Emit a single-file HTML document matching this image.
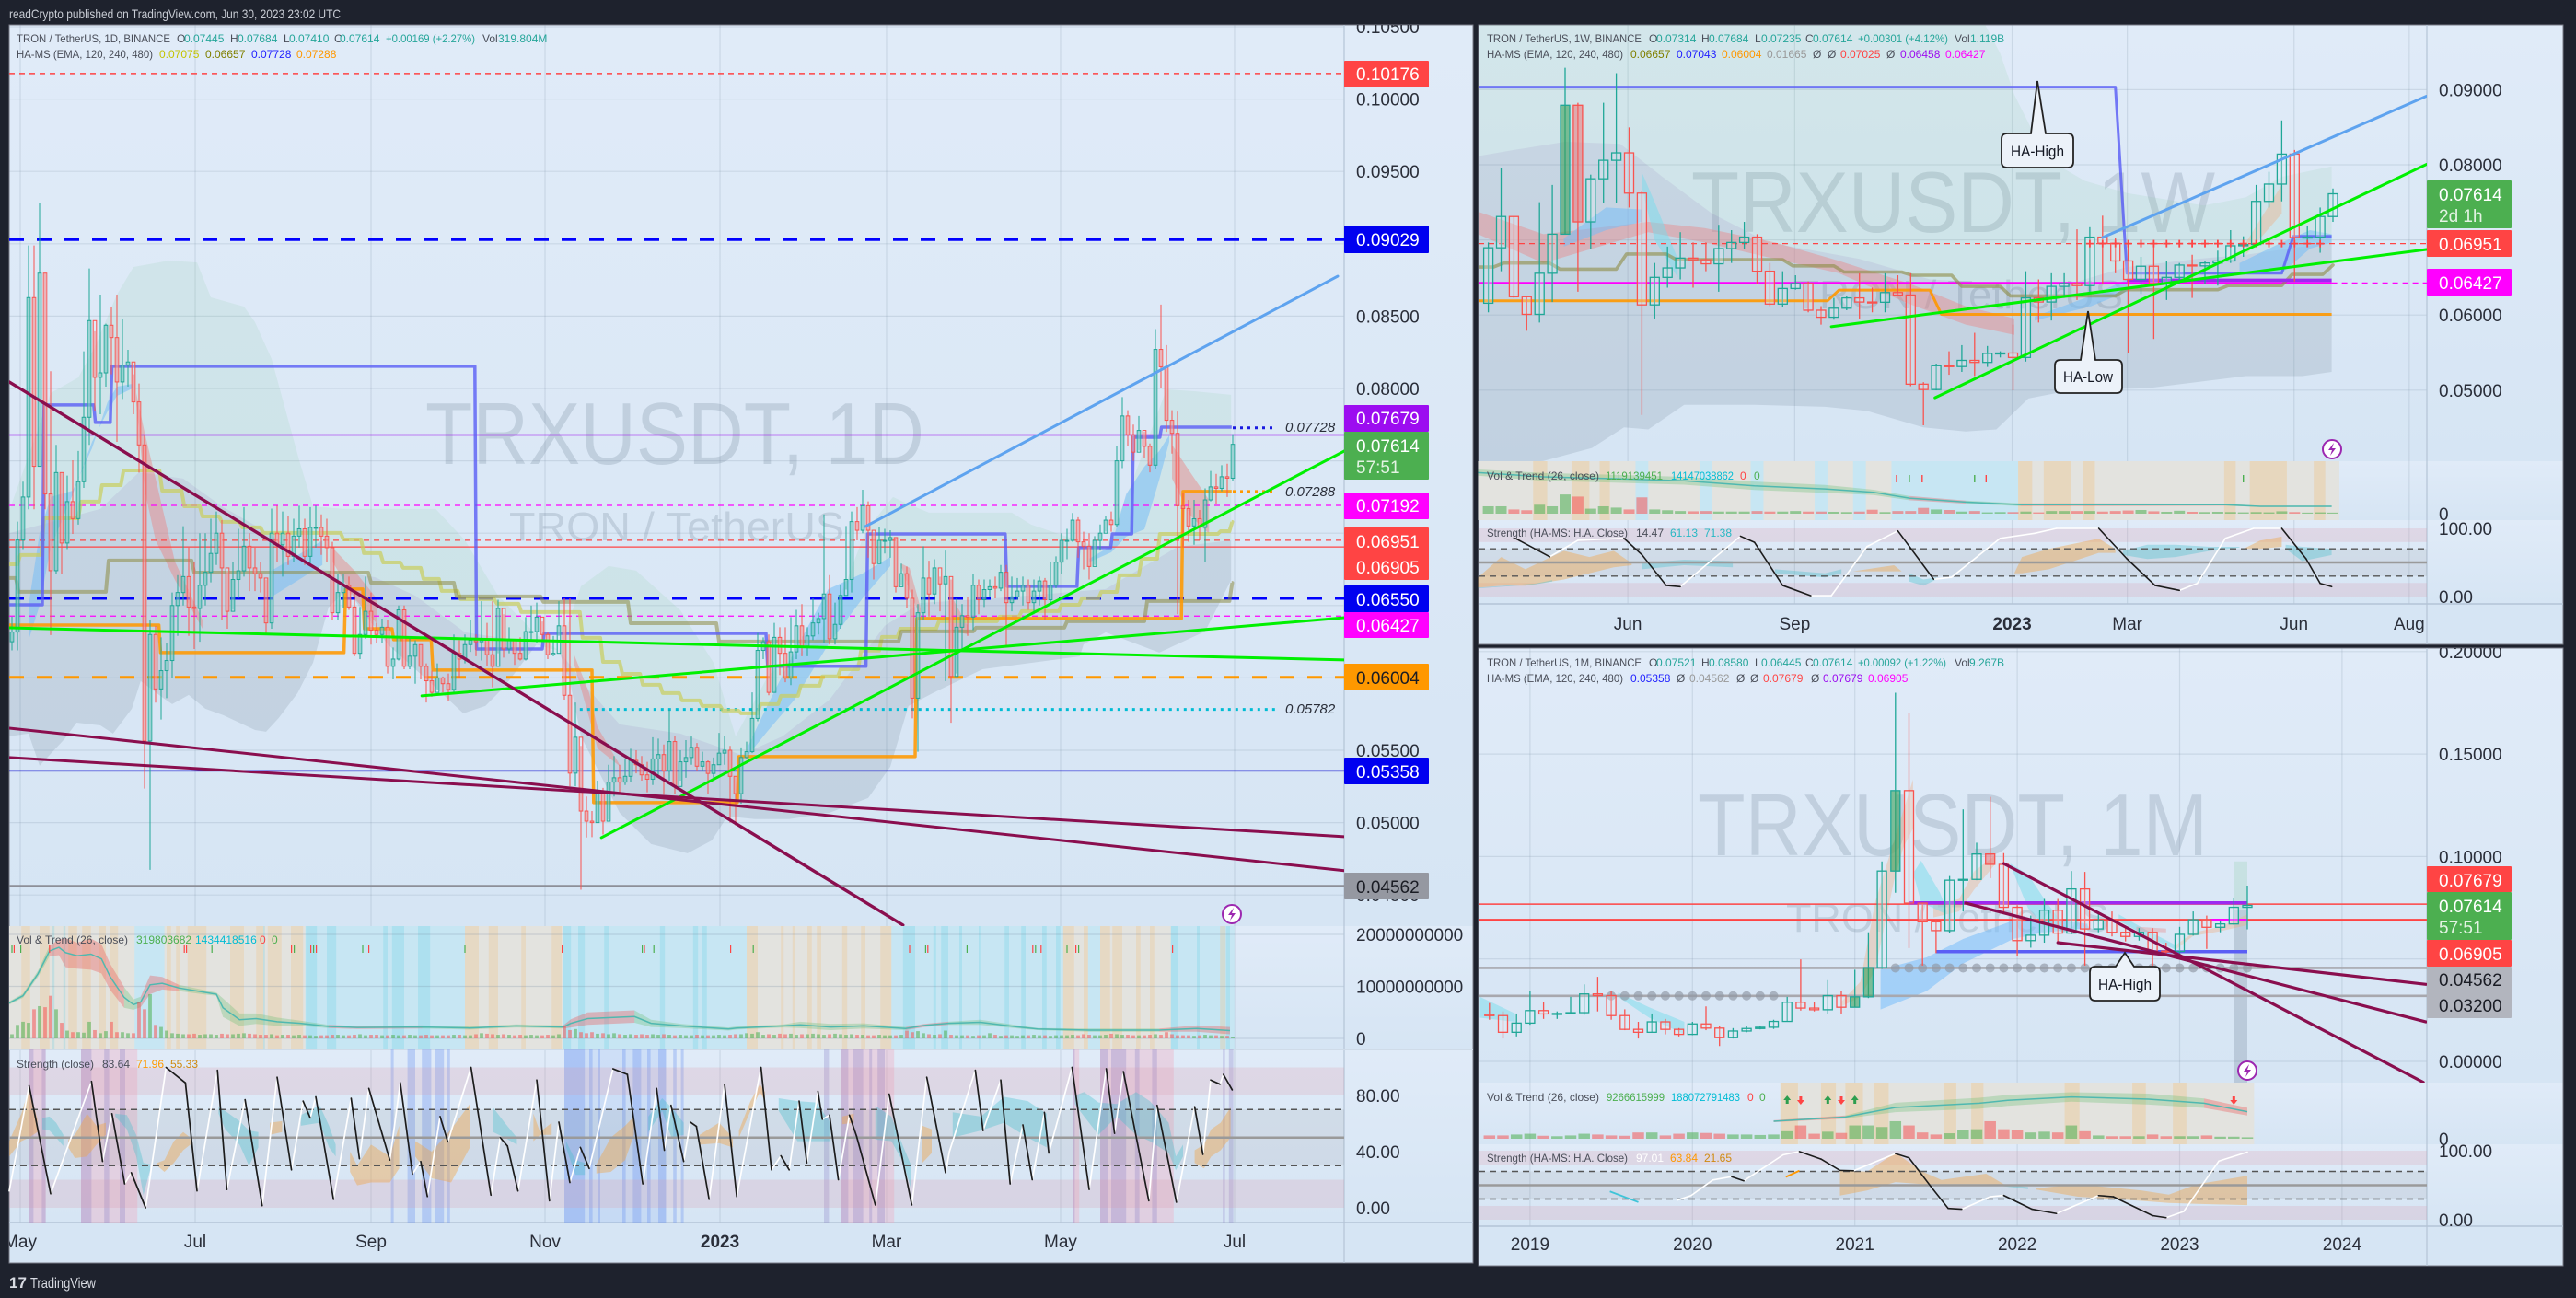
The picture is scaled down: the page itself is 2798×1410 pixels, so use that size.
<!DOCTYPE html>
<html lang="en">
<head>
<meta charset="utf-8">
<title>TRXUSDT multi-timeframe chart</title>
<style>
html,body{margin:0;padding:0;background:#1e222d;width:2798px;height:1410px;overflow:hidden}
svg{display:block}
text{font-family:"Liberation Sans",sans-serif}
.lg{font-size:12px;fill:#4a4e59}
.ax{font-size:19px;fill:#2a2e39}
.bx{font-size:19px;fill:#fff}
.bd{font-size:19px;fill:#1a1c24}
.it{font-size:15px;font-style:italic;fill:#2a2e39}
.te{fill:#26a69a}
</style>
</head>
<body>
<svg id="stage" width="2798" height="1410" viewBox="0 0 2798 1410" xmlns="http://www.w3.org/2000/svg">
<defs>
<linearGradient id="paneGrad" x1="0" y1="0" x2="0" y2="1"><stop offset="0" stop-color="#e0ebf8"/><stop offset="1" stop-color="#d6e5f4"/></linearGradient>
<clipPath id="clipDayMain"><rect x="10" y="27" width="1450" height="979"/></clipPath>
<clipPath id="clipWeekMain"><rect x="1606" y="27" width="1030" height="474"/></clipPath>
<clipPath id="clipMonthMain"><rect x="1606" y="704" width="1030" height="472"/></clipPath>
<clipPath id="clipDayAll"><rect x="10" y="27" width="1590" height="1345"/></clipPath>
<clipPath id="clipWeekAll"><rect x="1606" y="27" width="1178" height="673"/></clipPath>
<clipPath id="clipMonthAll"><rect x="1606" y="704" width="1178" height="671"/></clipPath>
</defs>
<rect x="0" y="0" width="2798" height="1410" fill="#1e222d"/>
<g id="layerBg"></g>
<g id="watermarks" fill="#6e8296" fill-opacity="0.25">
<text x="462" y="504" font-size="96" textLength="542" lengthAdjust="spacingAndGlyphs">TRXUSDT, 1D</text>
<text x="553" y="587" font-size="44" textLength="364" lengthAdjust="spacingAndGlyphs">TRON / TetherUS</text>
<text x="1837" y="252" font-size="94" textLength="569" lengthAdjust="spacingAndGlyphs">TRXUSDT, 1W</text>
<text x="1948" y="335" font-size="44" textLength="358" lengthAdjust="spacingAndGlyphs">TRON / TetherUS</text>
<text x="1844" y="929" font-size="96" textLength="554" lengthAdjust="spacingAndGlyphs">TRXUSDT, 1M</text>
<text x="1940" y="1012" font-size="44" textLength="351" lengthAdjust="spacingAndGlyphs">TRON / TetherUS</text>
</g>
<g id="layerMarks"></g>

<g>
<text x="10" y="20" font-size="14" fill="#c8ccd4" textLength="360" lengthAdjust="spacingAndGlyphs">readCrypto published on TradingView.com, Jun 30, 2023 23:02 UTC</text>
<text x="10" y="1399" font-size="17" font-weight="bold" fill="#d8dbe2">17</text>
<text x="33" y="1399" font-size="16" fill="#d8dbe2" textLength="71" lengthAdjust="spacingAndGlyphs">TradingView</text>
</g>

<g>
<text class="lg" x="18" y="46" textLength="167" lengthAdjust="spacingAndGlyphs">TRON / TetherUS, 1D, BINANCE</text>
<text class="lg" x="192" y="46">O</text><text class="lg te" x="200" y="46">0.07445</text>
<text class="lg" x="250" y="46">H</text><text class="lg te" x="258" y="46">0.07684</text>
<text class="lg" x="308" y="46">L</text><text class="lg te" x="314" y="46">0.07410</text>
<text class="lg" x="363" y="46">C</text><text class="lg te" x="369" y="46">0.07614</text>
<text class="lg te" x="419" y="46" textLength="97" lengthAdjust="spacingAndGlyphs">+0.00169 (+2.27%)</text>
<text class="lg" x="524" y="46">Vol</text><text class="lg te" x="541" y="46">319.804M</text>
<text class="lg" x="18" y="63" textLength="148" lengthAdjust="spacingAndGlyphs">HA-MS (EMA, 120, 240, 480)</text>
<text class="lg" x="173" y="63" style="fill:#c4c400">0.07075</text>
<text class="lg" x="223" y="63" style="fill:#808000">0.06657</text>
<text class="lg" x="273" y="63" style="fill:#2222ff">0.07728</text>
<text class="lg" x="322" y="63" style="fill:#ff9800">0.07288</text>
<text class="lg" x="18" y="1025" textLength="121" lengthAdjust="spacingAndGlyphs">Vol &amp; Trend (26, close)</text>
<text class="lg" x="148" y="1025" style="fill:#4caf50">319803682</text>
<text class="lg" x="212" y="1025" style="fill:#00bcd4">1434418516</text>
<text class="lg" x="282" y="1025" style="fill:#f44">0</text>
<text class="lg" x="295" y="1025" style="fill:#4caf50">0</text>
<text class="lg" x="18" y="1160" textLength="84" lengthAdjust="spacingAndGlyphs">Strength (close)</text>
<text class="lg" x="111" y="1160">83.64</text>
<text class="lg" x="148" y="1160" style="fill:#ff9800">71.96</text>
<text class="lg" x="185" y="1160" style="fill:#d08a10">55.33</text>
</g>

<g>
<text class="lg" x="1615" y="46" textLength="168" lengthAdjust="spacingAndGlyphs">TRON / TetherUS, 1W, BINANCE</text>
<text class="lg" x="1791" y="46">O</text><text class="lg te" x="1799" y="46">0.07314</text>
<text class="lg" x="1848" y="46">H</text><text class="lg te" x="1856" y="46">0.07684</text>
<text class="lg" x="1906" y="46">L</text><text class="lg te" x="1913" y="46">0.07235</text>
<text class="lg" x="1961" y="46">C</text><text class="lg te" x="1969" y="46">0.07614</text>
<text class="lg te" x="2018" y="46" textLength="98" lengthAdjust="spacingAndGlyphs">+0.00301 (+4.12%)</text>
<text class="lg" x="2123" y="46">Vol</text><text class="lg te" x="2140" y="46">1.119B</text>
<text class="lg" x="1615" y="63" textLength="148" lengthAdjust="spacingAndGlyphs">HA-MS (EMA, 120, 240, 480)</text>
<text class="lg" x="1771" y="63" style="fill:#808000">0.06657</text>
<text class="lg" x="1821" y="63" style="fill:#2222ff">0.07043</text>
<text class="lg" x="1870" y="63" style="fill:#ff9800">0.06004</text>
<text class="lg" x="1919" y="63" style="fill:#999">0.01665</text>
<text class="lg" x="1969" y="63">Ø</text>
<text class="lg" x="1985" y="63">Ø</text>
<text class="lg" x="1999" y="63" style="fill:#f44">0.07025</text>
<text class="lg" x="2049" y="63">Ø</text>
<text class="lg" x="2064" y="63" style="fill:#9c0df0">0.06458</text>
<text class="lg" x="2113" y="63" style="fill:#f0f">0.06427</text>
<text class="lg" x="1615" y="521" textLength="122" lengthAdjust="spacingAndGlyphs">Vol &amp; Trend (26, close)</text>
<text class="lg" x="1744" y="521" style="fill:#4caf50" textLength="62" lengthAdjust="spacingAndGlyphs">1119139451</text>
<text class="lg" x="1815" y="521" style="fill:#00bcd4" textLength="68" lengthAdjust="spacingAndGlyphs">14147038862</text>
<text class="lg" x="1890" y="521" style="fill:#f44">0</text>
<text class="lg" x="1905" y="521" style="fill:#4caf50">0</text>
<text class="lg" x="1615" y="583" textLength="153" lengthAdjust="spacingAndGlyphs">Strength (HA-MS: H.A. Close)</text>
<text class="lg" x="1777" y="583">14.47</text>
<text class="lg" x="1814" y="583" style="fill:#26b8c4">61.13</text>
<text class="lg" x="1851" y="583" style="fill:#26b8c4">71.38</text>
</g>

<g>
<text class="lg" x="1615" y="724" textLength="168" lengthAdjust="spacingAndGlyphs">TRON / TetherUS, 1M, BINANCE</text>
<text class="lg" x="1791" y="724">O</text><text class="lg te" x="1799" y="724">0.07521</text>
<text class="lg" x="1848" y="724">H</text><text class="lg te" x="1856" y="724">0.08580</text>
<text class="lg" x="1906" y="724">L</text><text class="lg te" x="1913" y="724">0.06445</text>
<text class="lg" x="1961" y="724">C</text><text class="lg te" x="1969" y="724">0.07614</text>
<text class="lg te" x="2018" y="724" textLength="96" lengthAdjust="spacingAndGlyphs">+0.00092 (+1.22%)</text>
<text class="lg" x="2123" y="724">Vol</text><text class="lg te" x="2139" y="724">9.267B</text>
<text class="lg" x="1615" y="741" textLength="148" lengthAdjust="spacingAndGlyphs">HA-MS (EMA, 120, 240, 480)</text>
<text class="lg" x="1771" y="741" style="fill:#2222ff">0.05358</text>
<text class="lg" x="1821" y="741">Ø</text>
<text class="lg" x="1835" y="741" style="fill:#999">0.04562</text>
<text class="lg" x="1886" y="741">Ø</text>
<text class="lg" x="1901" y="741">Ø</text>
<text class="lg" x="1915" y="741" style="fill:#f44">0.07679</text>
<text class="lg" x="1967" y="741">Ø</text>
<text class="lg" x="1980" y="741" style="fill:#9c0df0">0.07679</text>
<text class="lg" x="2029" y="741" style="fill:#f0f">0.06905</text>
<text class="lg" x="1615" y="1196" textLength="122" lengthAdjust="spacingAndGlyphs">Vol &amp; Trend (26, close)</text>
<text class="lg" x="1745" y="1196" style="fill:#4caf50" textLength="63" lengthAdjust="spacingAndGlyphs">9266615999</text>
<text class="lg" x="1815" y="1196" style="fill:#00bcd4" textLength="75" lengthAdjust="spacingAndGlyphs">188072791483</text>
<text class="lg" x="1898" y="1196" style="fill:#f44">0</text>
<text class="lg" x="1911" y="1196" style="fill:#4caf50">0</text>
<text class="lg" x="1615" y="1262" textLength="153" lengthAdjust="spacingAndGlyphs">Strength (HA-MS: H.A. Close)</text>
<text class="lg" x="1777" y="1262" style="fill:#fff">97.01</text>
<text class="lg" x="1814" y="1262" style="fill:#ff9800">63.84</text>
<text class="lg" x="1851" y="1262" style="fill:#d08a10">21.65</text>
</g>

<g>
<rect x="1460" y="66" width="92" height="29" rx="1" fill="#f44"/><text class="bx" x="1473" y="87">0.10176</text>
<rect x="1460" y="245" width="92" height="30" rx="1" fill="#0000f0"/><text class="bx" x="1473" y="267">0.09029</text>
<rect x="1460" y="440" width="92" height="29" rx="1" fill="#9c0df0"/><text class="bx" x="1473" y="461">0.07679</text>
<rect x="1460" y="469" width="92" height="52" rx="1" fill="#4caf50"/><text class="bx" x="1473" y="491">0.07614</text><text class="bx" x="1473" y="514" style="fill:#e3f3e3">57:51</text>
<rect x="1460" y="535" width="92" height="29" rx="1" fill="#f0f"/><text class="bx" x="1473" y="556">0.07192</text>
<rect x="1460" y="573" width="92" height="57" rx="1" fill="#f44"/><text class="bx" x="1473" y="595">0.06951</text><text class="bx" x="1473" y="623">0.06905</text>
<rect x="1460" y="636" width="92" height="29" rx="1" fill="#0000f0"/><text class="bx" x="1473" y="658">0.06550</text>
<rect x="1460" y="665" width="92" height="28" rx="1" fill="#f0f"/><text class="bx" x="1473" y="686">0.06427</text>
<rect x="1460" y="721" width="92" height="29" rx="1" fill="#ff9800"/><text class="bd" x="1473" y="743">0.06004</text>
<rect x="1460" y="823" width="92" height="29" rx="1" fill="#0000f0"/><text class="bx" x="1473" y="845">0.05358</text>
<rect x="1460" y="948" width="92" height="29" rx="1" fill="#9598a1"/><text class="bd" x="1473" y="970">0.04562</text>
<text class="it" x="1396" y="469">0.07728</text>
<text class="it" x="1396" y="539">0.07288</text>
<text class="it" x="1396" y="775">0.05782</text>
</g>

<g>
<rect x="2636" y="196" width="92" height="52" rx="1" fill="#4caf50"/><text class="bx" x="2649" y="218">0.07614</text><text class="bx" x="2649" y="241" style="fill:#e3f3e3">2d 1h</text>
<rect x="2636" y="250" width="92" height="29" rx="1" fill="#f44"/><text class="bx" x="2649" y="272">0.06951</text>
<rect x="2636" y="292" width="92" height="29" rx="1" fill="#f0f"/><text class="bx" x="2649" y="314">0.06427</text>
</g>

<g>
<rect x="2636" y="941" width="92" height="28" rx="1" fill="#f44"/><text class="bx" x="2649" y="963">0.07679</text>
<rect x="2636" y="969" width="92" height="52" rx="1" fill="#4caf50"/><text class="bx" x="2649" y="991">0.07614</text><text class="bx" x="2649" y="1014" style="fill:#e3f3e3">57:51</text>
<rect x="2636" y="1021" width="92" height="29" rx="1" fill="#f44"/><text class="bx" x="2649" y="1043">0.06905</text>
<rect x="2636" y="1050" width="92" height="56" rx="1" fill="#b2b5be"/><text class="bd" x="2649" y="1071">0.04562</text><text class="bd" x="2649" y="1099">0.03200</text>
</g>

<g>
<path d="M2180,145H2206L2213,88L2222,145H2246Q2252,145 2252,151V176Q2252,182 2246,182H2180Q2174,182 2174,176V151Q2174,145 2180,145Z" fill="#ecf2f9" stroke="#222" stroke-width="1.8"/>
<text x="2213" y="170" text-anchor="middle" font-size="17" fill="#131722" textLength="58" lengthAdjust="spacingAndGlyphs">HA-High</text>
<path d="M2238,391H2260L2268,338L2276,391H2299Q2305,391 2305,397V421Q2305,427 2299,427H2238Q2232,427 2232,421V397Q2232,391 2238,391Z" fill="#ecf2f9" stroke="#222" stroke-width="1.8"/>
<text x="2268" y="415" text-anchor="middle" font-size="17" fill="#131722" textLength="54" lengthAdjust="spacingAndGlyphs">HA-Low</text>
<path d="M2276,1050H2298L2308,1035L2318,1050H2340Q2346,1050 2346,1056V1081Q2346,1087 2340,1087H2276Q2270,1087 2270,1081V1056Q2270,1050 2276,1050Z" fill="#ecf2f9" stroke="#222" stroke-width="1.8"/>
<text x="2308" y="1075" text-anchor="middle" font-size="17" fill="#131722" textLength="58" lengthAdjust="spacingAndGlyphs">HA-High</text>
</g>

<g transform="translate(1338,993)"><circle r="10" fill="#fff" stroke="#9c27b0" stroke-width="2"/><polygon points="2,-7 -4,1 0,1 -2,7 4,-1 0,-1" fill="#9c27b0"/></g>
<g transform="translate(2533,488)"><circle r="10" fill="#fff" stroke="#9c27b0" stroke-width="2"/><polygon points="2,-7 -4,1 0,1 -2,7 4,-1 0,-1" fill="#9c27b0"/></g>
<g transform="translate(2441,1163)"><circle r="10" fill="#fff" stroke="#9c27b0" stroke-width="2"/><polygon points="2,-7 -4,1 0,1 -2,7 4,-1 0,-1" fill="#9c27b0"/></g>
</svg>

<script>
/* ===== DAILY DATA (prices in 1e-5 USDT, one bar per two sessions) ===== */
const dayClose=[6317,6953,7250,8628,7462,8797,7271,6741,7419,6932,
7218,7101,7356,7801,8469,8077,8108,8437,8352,8045,
8161,8183,7907,7610,5564,6300,5924,6050,6120,6500,
6590,6700,6490,6480,6640,6730,6860,7000,6760,6460,
6680,6740,6910,6760,6720,6690,6380,7000,6920,7000,
6840,6980,7030,6840,7040,7040,6980,6900,6450,6590,
6640,6490,6170,6300,6460,6330,6300,6350,6080,6130,
6470,6080,6150,6230,6080,5980,5900,6000,5960,5920,
6170,6130,6230,6260,6250,6260,6160,6080,6480,6200,
6260,6170,6130,6320,6320,6420,6300,6160,6170,6360,
5880,5342,5590,5080,5010,5000,5210,5010,5280,5310,
5280,5320,5430,5400,5330,5300,5440,5470,5360,5560,
5250,5420,5450,5520,5390,5420,5340,5400,5480,5500,
5320,5200,5450,5490,5720,6190,6250,5900,6280,6170,
6000,6180,6360,6220,6290,6380,6410,6580,6270,6370,
6570,6680,7080,7020,7190,7020,6790,6950,6950,6970,
6630,6720,6550,5860,6450,6690,6580,6760,6650,6700,
6010,6350,6430,6420,6640,6540,6610,6630,6620,6730,
6520,6560,6600,6640,6520,6600,6670,6540,6640,6800,
6950,6950,7090,6940,6910,6770,6950,7000,7090,7060,
7500,7810,7680,7560,7710,7600,7470,8270,8150,7780,
7690,7190,7170,7050,7100,7040,7230,7320,7310,7390,
7380,7614];
const dayHigh=[6423,7080,7356,8988,8988,9285,8797,8119,7610,7419,
7398,7504,7568,8257,8829,8395,8649,8448,8564,8649,
8479,8267,8098,8034,7674,6400,6359,6280,6240,6590,
6710,7048,6900,6800,7000,7000,7100,7150,7090,6730,
6800,7030,7180,7000,6900,6800,6680,7170,7190,7150,
7120,7100,7190,7100,7180,7190,7130,7100,6940,6720,
6720,6700,6600,6490,6700,6590,6380,6410,6400,6210,
6500,6500,6280,6260,6230,6100,6050,6100,6010,6030,
6300,6260,6300,6400,6300,6530,6380,6530,6540,6440,
6350,6260,6280,6420,6500,6520,6390,6320,6290,6530,
6550,6550,5830,5530,5180,5080,5290,5240,5400,5460,
5400,5440,5510,5500,5460,5420,5590,5580,5540,5780,
5600,5500,5570,5600,5550,5490,5430,5450,5620,5600,
5530,5320,5520,5560,5900,6310,6280,6300,6380,6350,
6350,6420,6470,6510,6350,6550,6450,7130,6710,6520,
6640,7050,7150,7180,7300,7220,7000,7040,7030,7020,
6970,6790,6770,6610,6510,6910,6810,6820,6700,6880,
6680,6550,6510,6560,6720,6680,6680,6680,6700,6780,
6780,6700,6690,6700,6680,6680,6700,6690,6800,6840,
7000,7030,7140,7110,7010,7000,6980,7060,7120,7150,
7600,7940,7850,7750,7810,7700,7620,8410,8580,8300,
7850,7840,7280,7230,7230,7160,7310,7430,7410,7470,
7480,7684];
const dayLow=[6190,6190,6890,7165,7165,7462,7165,6296,6720,6720,
6890,6995,7059,7313,7610,7843,7822,8013,8098,7631,
7928,8013,7822,7419,5235,4674,5829,5712,5860,6000,
6290,6500,6290,6200,6250,6500,6660,6780,6400,6340,
6470,6550,6700,6600,6600,6590,6300,6340,6800,6700,
6780,6800,6900,6780,6780,6900,6850,6800,6400,6400,
6480,6470,6150,6130,6270,6230,6240,6240,6030,5990,
6120,6060,6060,5960,5990,5830,5870,5920,5900,5840,
5900,6000,6100,6180,6150,6120,6080,5935,6170,6140,
6170,6090,6120,6120,6260,6240,6250,6130,6150,6290,
5850,5250,5250,4536,4897,4900,5000,4918,5020,5180,
5200,5260,5280,5340,5290,5210,5260,5330,5193,5290,
5200,5290,5310,5400,5360,5360,5200,5310,5400,5400,
5000,4980,5130,5440,5480,5700,6130,5880,5900,6020,
5970,5950,6130,6150,6150,6260,6300,6240,6230,6230,
6340,6610,6590,6950,7000,6830,6680,6800,6860,6830,
6590,6640,6480,5720,5490,6400,6423,6510,6460,5978,
5690,6030,6190,6290,6330,6440,6490,6560,6550,6600,
6210,6460,6540,6500,6470,6440,6500,6400,6500,6620,
6720,6820,6940,6830,6750,6680,6780,6880,7010,7010,
7040,7450,7600,7500,7570,7520,7420,7440,8000,7700,
7550,6440,6900,6940,6920,6950,6800,7220,7200,7290,
7250,7360];
const dayVolume=[.8,2.6,3.2,3,5.6,6.2,6,8.2,5.6,3,
1.5,1.2,1.2,1.1,3.2,1.6,1,1.4,3.2,1.2,
1.2,1,1,7,5.6,8.5,2.6,2.2,1.5,1,
.9,.8,.8,.9,.7,.8,.8,.7,.9,.8,
.8,.9,1,.9,.8,.7,.7,.8,.6,.7,
.7,.6,.7,.6,.6,.5,.6,.6,.7,.7,
.6,.6,.7,.8,.6,.7,.7,.6,.6,.7,
.6,.6,.7,.6,.6,.7,.6,.6,.6,.6,
.7,.7,.6,.6,.8,1,.9,.8,.7,.8,
.7,.6,.7,.6,.7,.6,.6,.7,.6,.8,
2.3,1.6,1.8,1.2,1,1.2,.9,1,.8,1,
.8,.7,.8,.7,.8,.7,.8,.7,.8,.7,
.6,.7,.6,.6,.7,.6,.6,.6,.7,.6,
.7,.8,.8,1,.9,1.2,.7,.8,.7,.9,
.8,.9,.7,.8,.8,.9,.8,.7,.8,.9,
.8,.7,.8,.7,.7,.6,.6,.7,.6,.6,
.6,.7,1.5,1.2,1.4,1,.8,.7,.8,1.5,
.7,.6,.6,.6,.5,.6,.6,1,.7,.5,
.6,.6,.5,.6,.6,.7,.6,.6,.5,.6,
.6,.6,.7,.6,.8,.7,.6,.6,.7,.9,
.8,.7,.7,.6,.6,.6,.7,.8,.7,1.2,
.8,.6,.6,.6,.5,.6,.7,.6,.6,.5,
.5,.32];
const dayPriceTickLabels=['0.10500','0.10000','0.09500','0.09000','0.08500','0.08000','0.07500','0.07000','0.06500','0.06000','0.05500','0.05000','0.04500'];
const dayVolTickLabels=['20000000000','10000000000','0'];
const dayStrengthTickLabels=['80.00','40.00','0.00'];
const dayTimeLabels=['May','Jul','Sep','Nov','2023','Mar','May','Jul'];
const dayTimeBars=[1.5,33.17,65,96.5,128.17,158.33,189.83,221.33];
const dayCloudTop=[[-0.5,7154],[7,7968],[12,8076],[15,8286],[19,8649],[22,8840],[28.5,8884],[33.5,8871],[36,8630],[42,8566],[44,8458],[47,8204],[52,7504],[54.5,7186],[60,7167],[76.7,7167],[82,6951],[88,6569],[95,6296],[99,6188],[103,6633],[108,6773],[113,6741],[121,6467],[127,6105],[131,5596],[137,6022],[145,6232],[151,6658],[154.5,7014],[159.5,7250],[162,7205],[166,7142],[181,7142],[184.5,7059],[189.5,6995],[198,6887],[203,7377],[209,7994],[214,7981],[220.7,7956]];
const dayCloudMid=[[-0.5,7000],[16,7167],[23,7421],[31,7377],[38,7186],[46.7,6995],[54.5,6760],[65.7,6696],[73,6569],[82,6315],[93,6251],[99,6188],[104.5,5914],[110,5679],[121,5615],[132,5469],[139.5,5596],[148,5850],[158,6360],[164.5,6518],[178,6550],[198,6614],[211,6906],[220.7,6951]];
const dayCloudBottom=[[-0.5,5596],[3,5615],[5,5393],[9.5,5577],[11.7,5691],[16,5672],[18.3,5615],[21.7,5787],[23.3,5978],[27.3,5863],[29,5819],[32,5882],[35,5787],[38.3,5742],[44,5640],[46,5628],[48.3,5723],[51.7,5895],[54.5,6105],[57.3,6486],[60.7,6614],[63,6486],[68,6232],[76.7,5933],[81.7,5755],[85.7,5806],[89,5933],[95,6232],[99,6188],[101,5978],[103,5596],[110,5068],[115.7,4852],[122.3,4788],[126.7,4877],[129.5,5043],[134.5,5024],[140.7,5024],[148,5068],[155,5170],[159,5386],[162.3,5806],[166.7,5895],[175.7,6060],[193.3,6149],[194,6232],[198,6315],[207.7,6175],[216,6321],[220.7,6677]];
const dayBlueRibbons=[
[[3,6500,6260],[5,7000,6500],[7,7250,6900],[11,7294,7269],[14.5,7587,7631],[17.3,7905,7841],[19,8013,7949],[21.8,8032,8000]],
[[47,6741,6560],[56.2,6950,6780]],
[[133.3,5532,5469],[136.7,5806,5628],[141.7,6187,5851],[147.8,6614,6232],[154,6722,6550],[159,6836,6773]],
[[195,6823,6800],[199,6913,6868],[201.7,7269,6976],[205,7460,7027],[207.7,7568,7370],[209.5,7676,7631]]];
const dayRedRibbons=[
[[22.5,7968,7900],[24,7700,7300],[26,7377,6951],[29.5,6804,6677],[34.5,6400,6340]],
[[58,6900,6804],[62,6741,6550],[66,6550,6378]],
[[101.7,6168,6105],[104.5,5895,5723],[106,5660,5513],[110,5400,5390]],
[[161,6790,6770],[162.5,6760,6600],[164.5,6480,6420]],
[[170,6570,6330],[173,6360,6300]],
[[210,7612,7377],[213.3,7421,7122],[216.7,7230,6995]]];
const dayHaHighSteps=[[-0.5,6505],[5.5,7886],[14.8,7765],[17.8,8153],[83.8,6200],[96,6308],[136.5,6080],[154.6,6995],[179.8,6633],[192.8,6900],[198.9,6995],[202.7,7663],[207.8,7733]];
const dayHaLowSteps=[[-0.5,6365],[26.6,6175],[60.1,6614],[63.5,6340],[68.8,6264],[75.9,6054],[105,5138],[131.3,5456],[163.5,6410],[211.7,7288]];
const dayYellowSteps=[[-0.5,6785],[1,6849],[5.3,7103],[12,7218],[15.8,7332],[19.7,7434],[26.7,7294],[30.7,7186],[34,7116],[37.5,7078],[41.2,7040],[45,7002],[59.5,6957],[63.2,6862],[66.7,6798],[70.3,6760],[74,6684],[77.3,6601],[80.7,6544],[87.3,6512],[91.7,6455],[102.8,6277],[106.5,6111],[110,6028],[113.7,5952],[117.3,5895],[120.8,5844],[124.5,5806],[128.2,5774],[131.5,5755],[135,5819],[138.7,5876],[142.3,5946],[146.2,6010],[149.5,6060],[153.2,6188],[157,6283],[160.3,6340],[167.3,6391],[178.3,6423],[182.3,6461],[189.5,6505],[193.2,6550],[196.7,6594],[200,6709],[204,6823],[207.3,6995],[218.3,7014],[220.4,7078]];
const dayOliveSteps=[[-0.5,6690],[0.7,6595],[17,6811],[32.5,6728],[64.5,6658],[80,6563],[95.7,6525],[111.5,6378],[127.5,6251],[160.5,6321],[174,6347],[190.5,6391],[205,6531],[220.4,6657]];
const dayVolTrendBars=[-.5,2,4.7,6.8,8.5,9.7,11.8,14.3,16.2,17.8,20.3,22,23.3,25,27.2,30.2,35.2,37,38.2,41.2,44.2,48,52.2,57.3,62.5,74.3,82.8,91.3,99.8,101.2,104.2,112.7,115.7,121.2,129.7,131.2,139.7,142.7,148.2,154.2,161.8,165.2,169.5,175.3,182.2,185.7,195,207.7,214.5,220.5];
const dayVolTrendValues=[6.8,8.2,12.4,16.8,17.5,16.5,15.9,16.2,15.3,11.8,7.9,6.5,7,10.3,10.6,9.7,8.8,8.5,5.9,3.6,3.8,3.2,2.9,2.3,2.1,2.2,2,2.4,2.2,2.9,3.8,4.2,2.9,2.4,1.8,2,2.4,2.6,2.2,2.4,1.9,2.5,2.9,3.1,2.2,1.8,1.6,1.6,1.9,1.5];
const dayVolTrendSpread=[.3,.4,.6,1,1.5,2.8,2.5,3,2.8,2.5,2,1,1,1.8,1.2,.6,.4,.3,1.8,1.2,1,.8,.5,.3,.3,.3,.3,.3,.3,.8,1.2,1.2,.7,.4,.3,.3,.3,.6,.6,.5,.3,.3,.3,.5,.3,.2,.3,.3,.6,.7];
const dayVolRedRanges=[[6.8,20],[24,30],[57,76],[100,113],[160,170],[208,221]];
const dayBeigeRanges=[[-.5,22.2],[27.6,53.1],[82,99.8],[133,159.2],[190.3,194.8],[197,209.8]];
const dayOrangeStripes=[[1.7,3.3],[5,6.8],[10.2,11.8],[12.7,14.3],[15.7,17],[17.8,19.2],[28,28.8],[29.7,30.5],[31.8,35.2],[39.5,42],[44.2,45.5],[46.3,48.8],[50.5,52.7],[82,84.5],[86.3,88],[92.2,93],[97.7,99.5],[133,135],[139.2,139.7],[141.3,141.8],[144,144.8],[145.7,146.5],[150.3,151.2],[153.7,154.5],[157.2,159.2],[190.3,192.3],[194,194.8],[197,198.8],[199.2,201],[203.5,204.3],[206,206.8],[218.7,219.7]];
const dayCyanStripes=[[7.2,7.7],[9.3,9.7],[45.5,45.8],[53.2,55.2],[57,58.7],[67.2,68],[68.8,71],[73.5,75.7],[99.8,101.2],[102.5,103.7],[107.2,108],[117.3,118.2],[123.3,124.2],[125,125.8],[161.3,163.5],[166.8,167.3],[168.2,169.5],[171.5,172],[175,175.3],[179.7,180.5],[182.7,183.5],[186.5,187.3],[189,189.8],[209.8,211],[214.5,215],[219.8,220.5]];
const dayVolGreenTicks=[0,1.6,36.2,51.1,54.6,63.5,82,114.1,116.2,134.2,165.4,172.9,185.3,191,193.1];
const dayVolRedTicks=[.4,6.8,31.2,31.6,50.6,54.1,55.1,64.6,99.6,114.5,130.1,162.5,165.8,184.8,186.3,192.6,210.1];
const dayStrengthBars=[-.5,3.1,7,14.4,16.4,18.1,20.4,21.6,24.2,27.9,31.4,33.5,37.2,38.9,42.2,45.3,48,50.6,52.7,54,55,58.2,61.4,62.9,64.6,68.4,70.3,72.5,74,75.2,77.5,78.9,83.1,86.7,88.4,89.7,91.6,95,97.3,99,101,102.9,104.5,108.8,111.4,114.2,116.7,118.1,119.3,121.6,122.8,123.9,126.2,129,131.2,135.6,137.5,139.2,140.7,142.5,143.9,145.9,146.7,148,149.6,151.6,152.9,156.3,158.8,162.9,165.6,169,169.7,174.4,175.8,179,180.7,183,184.7,186.9,187.7,191.9,195,198.1,199.6,201.2,205.8,207.3,210.8,214.1,215.6,217,218.7,219.3,220.9];
const dayStrengthValues=[12,87,10,90,33,67,17,25,0,100,89,12,98,13,77,1.5,93,27,76,64,79,6,78,35,85,34,89,24,33,8,65,47,100,9,50,44,12,91,5,61,18,43,28,99,95,17,85,41,73,33,61,58,6,88,8,100,27,37,27,76,32,83,63,66,20,66,51,2,81,2,93,25,40,98,55,91,17,59,20,68,39,100,13,99,53,97,5,73,4,72,38,91,88,95,84];
const dayStrengthOrange=[
[[-.5,47.5,36.5],[1.7,67,47.5],[3.1,84.7,50],[4.6,63,54]],
[[10.2,48.6,43],[11.4,52,35.4],[13.6,67,36.5],[15.3,58.4,45],[17,60.6,52]],
[[26.3,32,30],[27.6,34,25.6],[29.3,47.5,32],[31,54,41],[32.3,50,45]],
[[46.7,60.6,52],[48.9,61.7,54]],
[[61.2,40,25.6],[62.5,30,16],[65,45,18],[68.4,36.5,18],[70.1,58.4,28]],
[[73,47.5,36.5],[76,40,21],[79.5,56,18],[82.9,74,43]],
[[94.4,67,47.5],[95.6,54,52],[97.7,60.6,52]],
[[105.8,31,24.5],[108.4,50,25.6],[111,58.4,34],[112.6,65,52]],
[[124.5,52,45],[128,60.6,46],[130.5,50,43]],
[[131.6,55,50],[133.7,76,69],[135.4,88,82.5],[136.3,82.5,76]],
[[150.3,65,59.5],[152.4,67,60.6]],
[[164.8,58.4,32],[166.5,56,39]],
[[214.1,41,32],[215.8,45,28],[217.1,56,36.5],[218.8,60.6,41],[220.6,71.5,50]]];
const dayStrengthTeal=[
[[5.5,64,56],[6.8,65,55],[8,60.6,50],[9.3,52,44]],
[[18.7,67,65],[20.8,66,56],[22.5,52,36.5],[23.8,32,9],[25,31,26.7]],
[[37.4,71.5,67],[38.6,69,56],[41.2,61.7,45],[42.9,55,30],[44.6,54,43]],
[[52.3,66,58.4],[55.7,73,60.6],[57.4,58.4,43],[58.6,45,36.5]],
[[87.1,71.5,54],[89.2,60.6,50],[91.4,50,45]],
[[100.3,47.5,43],[102,34,23.4],[103.7,32,23.4]],
[[115.2,65,54],[117.7,78,69],[119.4,71.5,50],[121.6,60.6,52]],
[[138.8,78,69],[142.2,76,47.5],[145.6,75,47.5],[148.2,60.6,47.5]],
[[156.3,72.6,48.6],[159.2,65,47.5],[161.4,43,32],[162.8,30,12.5]],
[[170.3,68,50],[175.4,65,55],[179.6,79,60.6],[183.9,76,50],[187.3,67,43]],
[[192.4,80,74],[194.1,82.5,65],[196.7,75,52],[200,74,65],[203.5,82.5,52],[206,76,47.5],[209.4,60.6,39],[210.7,36.5,26.7],[212,45,36.5]]];
const dayPinkStripes=[[3.1,6.1],[12.5,22.7],[150,159.7],[192,193.2],[197,210.3]];
const dayPurpleStripes=[[3.1,3.9],[5.4,6.1],[12.5,14.4],[16.7,17.6],[19.5,20.5],[147,147.9],[150,151.4],[152.3,154.1],[155.2,155.7],[156.7,158],[192,192.4],[197,198.5],[199,201.7],[203.3,204.1],[206.4,207.3],[219.2,219.6],[220.3,221.1]];
const dayBlueStripes=[[68.6,69.1],[71.6,73],[74.2,75.9],[76.5,78.2],[78.8,79.3],[100,103.7],[104.5,105.1],[106,106.5],[110.5,111.1],[112.4,113.9],[115,115.6],[117,118.4],[119.7,120.3],[121.1,121.6]];

/* ===== WEEKLY DATA ===== */
const weekClose=[6895,7311,6244,6009,6556,7076,8793,7240,7814,8060,8159,7623,6135,6501,6627,6758,6736,6682,6884,6966,7037,6583,6146,6353,6419,6064,5971,6091,6228,6173,6170,6299,6266,5079,5008,5325,5314,5396,5369,5489,5494,5435,6228,6173,6381,6419,6392,7037,6955,6720,6474,6649,6419,6501,6665,6654,6693,6720,6922,6939,7513,7743,8142,7032,7037,7311,7614];
const weekHigh=[6966,7962,7311,6255,7502,7732,9291,8826,7869,8826,9220,8498,7650,6693,6911,7103,6966,6966,7201,7130,7240,7076,6693,6583,6529,6447,6118,6228,6255,6556,6364,6556,6529,6556,5106,5353,5517,5599,5763,5588,5517,5872,6583,6474,6556,6556,7141,7169,7322,7021,6911,6775,6966,6720,6693,6802,6720,6857,7130,7048,7732,7907,8591,8197,7185,7431,7684];
const weekLow=[6036,6583,6228,5790,5900,6173,7076,6310,6884,7486,7486,7431,4669,5954,6364,6474,6364,6583,6310,6693,6884,6419,6118,6102,6337,6036,5872,5938,6064,5954,6036,6036,6255,5052,4532,4997,5205,5243,5188,5309,5435,4997,5380,5900,5927,6228,6200,6310,6419,6556,5489,6282,5681,6200,6419,6228,6419,6392,6693,6775,6911,7431,7513,6447,6911,6829,7240];
const weekVolume=[2.8,2.8,1.6,1.3,3.4,2.8,7.3,6.5,1.9,2.8,2.3,1.6,6.2,1.6,1.3,1,.9,1,.8,.8,.8,1,.8,.8,1,.8,.8,.7,.6,.8,1.5,.6,1,1,2.2,1.6,1.4,.8,1,.5,.6,.6,.8,.5,1,1,1,1,.8,1,1.2,1.4,.9,.7,1.1,.7,.6,.7,.6,.5,.6,.5,.9,.6,.4,.5,.4];
const weekFilled=[6,7];
const weekPriceTickLabels=['0.09000','0.08000','0.07000','0.06000','0.05000'];
const weekStrengthTickLabels=['100.00','0.00'];
const weekTimeLabels=['Jun','Sep','2023','Mar','Jun','Aug'];
const weekTimeBars=[10.9,23.94,40.93,49.93,62.96,71.96];
const weekCloudTop=[[-.8,10000],[38.4,10000],[40,9482],[41.1,8935],[42.7,8388],[44.4,8005],[46.6,7787],[49.9,7623],[55.9,7458],[59.2,7568],[62,7841],[65.9,7978]];
const weekCloudMid=[[-.8,8115],[2,8197],[6,8306],[10.3,8279],[13.6,7841],[17.5,7349],[21.9,6966],[29,6747],[34.5,6474],[40,6419],[45.5,6419],[49.9,6638],[55.4,6747],[59.2,6802],[65.9,6966]];
const weekCloudBottom=[[-.8,4000],[4.3,4056],[8.1,4231],[10.6,4505],[12.5,4477],[15.3,4805],[20.8,4805],[26.3,4778],[29.6,4723],[34,4505],[37.3,4450],[39.7,4477],[42.2,4888],[45.5,4997],[51.5,5024],[59.2,5188],[63.6,5188],[65.9,5243]];
const weekRedRibbon=[[-.8,7376,7076],[4.3,7076,6693],[12.5,7240,7103],[16.9,7158,6966],[22.4,6966,6747],[27.4,6720,6556],[32.9,6419,6146],[37.3,6118,5872],[41.1,5954,5735]];
const weekBlueRibbons=[[[5.9,7021,6911],[9.2,7431,7130],[12,7404,7240]],[[42.7,5982,5927],[47.1,6255,6118],[49.9,6474,6310]],[[58.7,6693,6556],[62,6966,6556],[64.2,7130,6884],[65.9,7076,6966]]];
const weekTanRibbon=[[59.2,6966,6802],[62,7732,7349]];
const weekCyanRibbon=[[12,7900,7700],[13,7500,7000],[14.8,6750,6500]];
const weekHaHighSteps=[[-.8,9034],[49,6556],[62,7048]];
const weekHaLowSteps=[[-.8,6189],[26.5,6332],[34.5,6009]];
const weekOliveSteps=[[-.8,6638],[.4,6693],[4.8,6610],[10,6813],[13.9,6736],[23,6654],[27,6572],[32.3,6529],[36.2,6381],[40,6255],[49,6337],[57,6392],[62,6540],[65.2,6665]];
const weekVolTrendBars=[-.8,4.3,9.8,15.3,20.8,26.3,30.1,32.9,37.3,41.6,48.2,57.6,60.3,65.9];
const weekVolTrendValues=[15.6,14,13.3,12.5,10.6,9.4,8.1,5.9,4.4,3.4,3.4,3.4,2.8,2.8];
const weekVolTrendSpread=[1.2,1.5,1.5,1.5,1.6,1.5,1,.8,.6,.5,.5,.4,.2,.2];
const weekVolRedRanges=[[33,37],[41,57]];
const weekBeigeRanges=[[-.8,11.5],[12.5,16.5],[17.5,20.5],[21.5,25.5],[26.5,28.5],[29.5,31.5],[41.4,66.5]];
const weekOrangeStripes=[[3.5,4.6],[6.5,7.9],[8.7,9.5],[41.4,42.5],[43.4,45.5],[46.5,47.4],[57.5,58.4],[59.5,62.4],[64.5,65.4]];
const weekVolGreenTicks=[32.9,38,59];
const weekVolRedTicks=[31.9,33.9,38.9];
const weekStrengthBars=[2.1,4.8,7,10.6,12,13.9,15,19.7,20.8,23,25.2,26.8,29.6,32,34.8,36.2,40,42.7,44.4,47.7,49.9,52.1,54,55.4,57.6,59.8,62,63.9,65,65.9];
const weekStrengthValues=[85.5,58.4,82.5,85.5,61.4,16.3,14.5,88.6,79.5,16.3,1.2,1.2,73.5,96.4,25.3,28.3,85.5,92.8,100,100,55.4,16.3,9,19.3,85.5,100,100,55.4,19.3,14.5];
const weekStrengthOrange=[[[-.8,28,13],[1,58,16],[2.9,40,16],[5.9,67,25],[7.9,58,34],[9.8,67,43],[11.2,49,46]],[[28.5,37,37],[31.7,46,37],[32.3,37,37]],[[36.7,34,34],[41.1,34,34],[41.7,58,34],[43.8,70,40],[47.7,85,64],[49,70,64]],[[59,70,70],[60.3,82,70],[62,88,73]]];
const weekStrengthTeal=[[[-.8,13,12],[3.7,19,18],[5,24,22]],[[12,49,40],[15.3,54,46],[19.1,52,43]],[[22.4,40,34],[26.3,34,28],[27.6,40,34]],[[32.9,34,22],[34,25,16],[35,28,25]],[[49.6,67,61],[51.5,76,55],[53.7,76,58],[56.4,73,67],[58.7,73,72]],[[62.3,76,70],[63.6,73,52],[65.9,70,61]]];

/* ===== MONTHLY DATA ===== */
const monthClose=[2236,1423,1870,2480,2318,2338,2379,3293,3212,2236,1565,1423,1931,1565,1321,1830,1626,1159,1484,1606,1667,1952,2887,2602,2521,3212,2643,3151,4574,9291,13215,7725,6811,6384,8844,8884,10124,9616,7522,5896,6160,7380,6262,8417,6465,6872,6302,6099,6302,5387,5367,6201,6912,6546,6709,7522,7614];
const monthHigh=[2846,2440,2338,3456,2907,2440,3151,3761,4127,3456,2541,1931,2338,2074,1626,1931,2684,1728,1626,1728,1728,2033,3151,4981,2887,3964,3456,4473,6302,9758,17992,17016,7725,6912,9047,12300,10673,12910,10165,7624,7116,7929,7929,9291,9250,7319,7319,6506,6506,6506,5794,6567,7319,7116,6872,7990,8580];
const monthLow=[2033,1118,1220,1789,2074,2074,2297,2277,2440,2033,1525,1118,1423,1321,1220,1281,1525,752,1118,1423,1565,1586,1931,2480,2440,2338,2338,2643,3090,4513,8234,5530,4676,5286,6262,7319,8844,8945,7319,5123,5550,5794,5794,6201,4676,6302,6099,5855,5896,4574,5184,5083,6140,5489,6302,6668,6445];
const monthVolume=[21,21,27,32,19,16,21,32,27,21,19,40,40,21,32,40,37,32,27,27,24,27,48,85,32,45,37,85,85,75,112,85,40,27,35,53,61,112,61,56,40,45,40,85,48,21,16,16,16,27,16,16,16,21,13,13,9.3];
const monthFilled=[27,28,30,37];
const monthPriceTickLabels=['0.20000','0.15000','0.10000','0.05000','0.00000'];
const monthStrengthTickLabels=['100.00','0.00'];
const monthTimeLabels=['2019','2020','2021','2022','2023','2024'];
const monthTimeBars=[3,15,27,39,51,63];
const monthCloudTop=[[55,9758],[56,9758]];
const monthCloudMid=[[55,7400],[56,7400]];
const monthCloudBottom=[[55,-1200],[56,-1200]];
const monthBlueRibbon=[[28.9,4480,2533],[32.3,5078,3432],[35,5977,4779],[38.7,6875,5977],[40.8,6950,6276],[44.2,6725,6500]];
const monthCyanRibbons=[[[-.7,3151,2135],[1.9,2338,1931]],[[9.5,3355,3151],[11.8,2643,2135],[14.4,1931,1321]],[[31.4,9270,8970],[31.9,9794,7773],[33.3,8222,7324],[33.8,7324,7174]],[[38.5,9644,9570],[39.8,9120,7474],[41,7923,6575],[42.5,6575,6276]],[[46.5,7174,6875],[48.5,6426,6126],[50.7,5677,5453]]];
const monthTanRibbons=[[[26,2908,2683],[27.4,3881,3132],[28.5,7773,4480],[29.9,10767,8821],[30.6,12264,10468],[31.3,13761,11366]],[[32.8,7623,7024],[34.7,7923,7324],[35.8,9270,8372],[37.3,10019,9570]],[[50.7,5677,5453],[52,6276,6126],[54,6575,6351],[56,7174,6650]]];
const monthRedRibbon=[[47.8,6575,6351],[50,6476,6300]];
const monthDots3200=[9,10,11,12,13,14,15,16,17,18,19,20,21];
const monthDots4562=[30,31,32,33,34,35,36,37,38,39,40,41,42,43,44,45,46,47,48,49,50,51,52,53,54,55,56];
const monthVolTrendBars=[21,26.3,30,36.2,38.3,43,48.7,52.8,56];
const monthVolTrendValues=[112,139,200,227,245,267,253,227,173];
const monthVolTrendSpread=[6,10,30,35,35,30,35,30,25];
const monthVolRedRanges=[[21,26],[53.5,56]];
const monthBeigeRanges=[[21.5,56.5]];
const monthOrangeStripes=[[21.5,22.8],[24.5,25.6],[26.3,27.6],[28.4,29.5],[33.6,34.5],[35.6,36.5],[42.5,43.6],[47.5,48.5],[50.5,51.5]];
const monthUpArrows=[22,25,27];
const monthDownArrows=[23,26,55];
const monthStrengthBars=[13.9,14.9,16.5,17.9,18.8,21.7,22.9,24.5,25.9,26.9,30,31,32.6,33.9,34.9,37,38,40.1,41.9,45,46.1,49,50,51.3,53.9,56];
const monthStrengthValues=[28.5,35,57.6,62.4,56.4,94,98.8,87.9,71.5,70.9,95.8,89.7,48.5,16.4,15.2,33.3,35.2,15.2,9,35,33.3,6,3,12,85,98];
const monthStrengthOrange=[[[25.9,71.5,35],[27.9,69.7,42.4],[30,97,54.5],[32,69.7,51.5],[33.4,57.6,51.5],[36.7,66.7,51.5],[38,51.5,48.5]],[[40.4,45.5,43.6],[43.5,51.5,33.3],[48.2,42.4,27.3],[50.2,36.4,24.2],[52.3,51.5,23],[56,63.6,21.2]]];
const monthStrengthTeal=[[[38,51.5,48.5],[39.8,47.3,44.2]]];
const monthCyanStrengthBars=[8.9,11];
const monthCyanStrengthValues=[41,25.5];
const monthOrangeStrengthBars=[21.9,22.9];
const monthOrangeStrengthValues=[62,71];

/* ===== AXES ===== */
const xDay=b=>13+6*b;
const yDay=p=>422+(8000-p)*78.6/500;
const yDayVol=v=>1128-v*5.65;
const yDayStr=s=>1312-s*1.525;
const xWeek=k=>1616.6+13.9*k;
const yWeek=p=>179+(8000-p)*81.6/1000;
const yWeekVol=v=>558-v*2.86;
const yWeekStr=s=>648-s*.74;
const xMonth=m=>1617.8+14.7*m;
const yMonth=p=>1153-p*.02226;
const yMonthVol=v=>1237-v*.17;
const yMonthStr=s=>1325-s*.75;

/* ===== DRAWING HELPERS ===== */
const SVG_NS='http://www.w3.org/2000/svg';
const layerBg=document.getElementById('layerBg');
const layerMarks=document.getElementById('layerMarks');
function add(parent,tag,attrs,name,interactable){
  const node=document.createElementNS(SVG_NS,tag);
  for(const k in attrs)node.setAttribute(k,attrs[k]);
  
  
  parent.appendChild(node);
  return node;
}
function group(parent,name,clip){
  const a=clip?{'clip-path':'url(#'+clip+')'}:{};
  return add(parent,'g',a,name);
}
function pts(list){return list.map(p=>p[0].toFixed(1)+','+p[1].toFixed(1)).join(' ');}
function area(g,top,bottom,xf,yf,fill,name){
  const a=top.map(p=>[xf(p[0]),yf(p[1])]);
  const b=bottom.map(p=>[xf(p[0]),yf(p[1])]).reverse();
  add(g,'polygon',{points:pts(a.concat(b)),fill:fill},name);
}
function ribbon(g,tri,xf,yf,fill,name){
  area(g,tri.map(t=>[t[0],t[1]]),tri.map(t=>[t[0],t[2]]),xf,yf,fill,name);
}
function steps(g,list,endBar,slant,xf,yf,stroke,w,op,name){
  let out=[[xf(list[0][0]),yf(list[0][1])]];
  for(let i=1;i<list.length;i++){
    out.push([xf(list[i][0]),yf(list[i-1][1])]);
    out.push([xf(list[i][0]+slant),yf(list[i][1])]);
  }
  out.push([xf(endBar),yf(list[list.length-1][1])]);
  add(g,'polyline',{points:pts(out),fill:'none',stroke:stroke,'stroke-width':w,'stroke-opacity':op,'stroke-linejoin':'round'},name);
}
function hLine(g,x1,x2,y,stroke,w,dash,name){
  const a={x1:x1,x2:x2,y1:y,y2:y,stroke:stroke,'stroke-width':w};
  if(dash)a['stroke-dasharray']=dash;
  add(g,'line',a,name);
}
function trend(g,b1,p1,b2,p2,xf,yf,stroke,w,name){
  add(g,'line',{x1:xf(b1),y1:yf(p1),x2:xf(b2),y2:yf(p2),stroke:stroke,'stroke-width':w,'stroke-linecap':'round'},name);
}
function candles(g,close,high,low,firstOpen,xf,yf,bodyW,lw,filled){
  let open=firstOpen;
  close.forEach((c,i)=>{
    const up=c>=open,col=up?'#1fa797':'#f9534f',x=xf(i);
    add(g,'line',{x1:x,x2:x,y1:yf(high[i]),y2:yf(low[i]),stroke:col,'stroke-width':lw},'candle-wick');
    const top=yf(Math.max(open,c)),bot=yf(Math.min(open,c));
    const fill=filled&&filled.includes(i)?(up?'rgba(60,160,90,.6)':'rgba(240,110,110,.5)'):'rgba(235,240,248,.28)';
    add(g,'rect',{x:x-bodyW/2,y:top,width:bodyW,height:Math.max(bot-top,1),fill:fill,stroke:col,'stroke-width':lw},'candle-body');
    open=c;
  });
}
function stripes(g,ranges,xf,y,h,fill,name){
  ranges.forEach(r=>{add(g,'rect',{x:xf(r[0]),y:y,width:Math.max(xf(r[1])-xf(r[0]),1),height:h,fill:fill},name);});
}
function volBars(g,vol,close,firstOpen,xf,yf,w){
  let open=firstOpen;
  vol.forEach((v,i)=>{
    const up=close[i]>=open;
    add(g,'rect',{x:xf(i)-w/2,y:yf(v),width:w,height:yf(0)-yf(v),fill:up?'rgba(76,175,80,.55)':'rgba(245,85,85,.55)'},'volume-bar');
    open=close[i];
  });
}
function volTrend(g,bars,vals,spread,red,xf,yf){
  for(let i=0;i<bars.length-1;i++){
    const mid=(bars[i]+bars[i+1])/2;
    const isRed=red.some(r=>mid>=r[0]&&mid<=r[1]);
    const quad=[[xf(bars[i]),yf(vals[i]+spread[i])],[xf(bars[i+1]),yf(vals[i+1]+spread[i+1])],[xf(bars[i+1]),yf(vals[i+1]-spread[i+1])],[xf(bars[i]),yf(vals[i]-spread[i])]];
    add(g,'polygon',{points:pts(quad),fill:isRed?'rgba(235,90,90,.36)':'rgba(100,190,110,.3)'},'volume-trend-band');
  }
  add(g,'polyline',{points:pts(bars.map((b,i)=>[xf(b),yf(vals[i])])),fill:'none',stroke:'#4fb8b0','stroke-width':1.5},'volume-trend-line');
}
function strengthFrame(g,x1,x2,yf){
  add(g,'rect',{x:x1,y:yf(100),width:x2-x1,height:yf(80)-yf(100),fill:'rgba(220,150,170,.22)'},'overbought-band');
  add(g,'rect',{x:x1,y:yf(20),width:x2-x1,height:yf(0)-yf(20),fill:'rgba(220,150,170,.22)'},'oversold-band');
  add(g,'rect',{x:x1,y:yf(70),width:x2-x1,height:yf(30)-yf(70),fill:'rgba(120,120,120,.11)'},'neutral-band');
}
function strengthRules(g,x1,x2,yf){
  hLine(g,x1,x2,yf(70),'#555',1.4,'7 5','strength-upper-rule');
  hLine(g,x1,x2,yf(30),'#555',1.4,'7 5','strength-lower-rule');
  hLine(g,x1,x2,yf(50),'#9a9a9a',2.5,null,'strength-mid-rule');
}
function strengthFills(g,oranges,teals,xf,yf){
  oranges.forEach(s=>ribbon(g,s,xf,yf,'rgba(240,165,70,.42)','strength-orange-fill'));
  teals.forEach(s=>ribbon(g,s,xf,yf,'rgba(70,190,205,.36)','strength-teal-fill'));
}
function strengthLine(g,bars,vals,xf,yf,w){
  const paths=[[],[]];
  for(let i=0;i<bars.length-1;i++){
    const seg={x1:xf(bars[i]),y1:yf(vals[i]),x2:xf(bars[i+1]),y2:yf(vals[i+1])};
    paths[vals[i+1]>=vals[i]?0:1].push(seg);
  }
  paths[0].forEach(s=>add(g,'line',Object.assign({stroke:'#ffffff','stroke-width':w,'stroke-linecap':'round'},s),'strength-rising-segment'));
  paths[1].forEach(s=>add(g,'line',Object.assign({stroke:'#1c1c1c','stroke-width':w,'stroke-linecap':'round'},s),'strength-falling-segment'));
}
function pane(x,y,w,h,name){add(layerBg,'rect',{x:x,y:y,width:w,height:h,fill:'url(#paneGrad)'},name);}
function tickLabels(g,labels,yOf,x,name){
  labels.forEach(t=>{
    const el=add(g,'text',{x:x,y:yOf(t)+7,class:'ax'},name);
    el.textContent=t;
  });
}
function timeLabels(g,labels,bars,xf,y,name){
  labels.forEach((t,i)=>{
    const a={x:xf(bars[i]),y:y,'text-anchor':'middle',class:'ax'};
    if(/^20/.test(t)&&name==='time-year-bold')a['font-weight']='bold';
    const el=add(g,'text',a,name);
    el.textContent=t;
  });
}

/* ===== DAILY CHART ===== */
(function(){
  pane(10,27,1590,979,'daily-main-pane');
  pane(10,1006,1590,134,'daily-volume-pane');
  pane(10,1140,1590,188,'daily-strength-pane');
  add(layerBg,'rect',{x:10,y:1328,width:1590,height:44,fill:'#d6e5f4'},'daily-time-axis-pane');
  add(layerBg,'rect',{x:10,y:27,width:1590,height:1345,fill:'none',stroke:'#787b86','stroke-width':1},'daily-frame');
  const bg=group(layerBg,'daily-grid');
  dayTimeBars.forEach(b=>add(bg,'line',{x1:xDay(b),x2:xDay(b),y1:27,y2:1328,stroke:'rgba(120,140,160,.2)','stroke-width':1.2},'daily-time-gridline'));
  dayPriceTickLabels.forEach(t=>hLine(bg,10,1460,yDay(Number(t)*1e5),'rgba(120,140,160,.2)',1.2,null,'daily-price-gridline'));
  dayVolTickLabels.forEach(t=>hLine(bg,10,1460,yDayVol(Number(t)/1e9),'rgba(120,140,160,.22)',1.2,null,'daily-volume-gridline'));
  add(bg,'line',{x1:1460,x2:1460,y1:27,y2:1372,stroke:'#b4c4d6','stroke-width':1.2},'daily-price-axis-line');
  hLine(bg,10,1600,1328,'#b4c4d6',1.4,null,'daily-time-axis-line');
  hLine(bg,10,1600,1140,'#cfdbe8',2,null,'daily-pane-separator');

  const m=group(layerMarks,'daily-main-marks','clipDayMain');
  area(m,dayCloudTop,dayCloudMid,xDay,yDay,'rgba(120,200,150,.13)','daily-upper-cloud');
  area(m,dayCloudMid,dayCloudBottom,xDay,yDay,'rgba(100,120,140,.18)','daily-lower-cloud');
  dayBlueRibbons.forEach(r=>ribbon(m,r,xDay,yDay,'rgba(120,190,245,.55)','daily-blue-ribbon'));
  dayRedRibbons.forEach(r=>ribbon(m,r,xDay,yDay,'rgba(235,130,130,.45)','daily-red-ribbon'));
  const X1=10,X2=1460;
  hLine(m,X1,X2,yDay(10176),'#f44',1.5,'6 5','level-10176');
  hLine(m,X1,X2,yDay(9029),'#0000ff',3,'16 14','level-09029');
  hLine(m,X1,X2,yDay(7679),'#9c0df0',1.5,null,'level-07679');
  hLine(m,X1,X2,yDay(7192),'#f0f',1.3,'6 5','level-07192');
  hLine(m,X1,X2,yDay(6951),'#f44',1.3,'6 5','level-06951');
  hLine(m,X1,X2,yDay(6905),'#f44',1.3,null,'level-06905');
  hLine(m,X1,X2,yDay(6550),'#0000ff',3,'16 14','level-06550');
  hLine(m,X1,X2,yDay(6427),'#f0f',1.3,'6 5','level-06427');
  hLine(m,X1,X2,yDay(6004),'#ff9800',3,'16 14','level-06004');
  hLine(m,xDay(102.8),1387,yDay(5782),'#00bcd4',3,'3 5','level-05782');
  hLine(m,X1,X2,yDay(5358),'#0000cc',1.5,null,'level-05358');
  hLine(m,X1,X2,yDay(4562),'#8d8f98',2.5,null,'level-04562');
  steps(m,dayYellowSteps,220.8,.5,xDay,yDay,'#c9cf60',4,.72,'daily-ha-yellow-line');
  steps(m,dayOliveSteps,220.8,.5,xDay,yDay,'#8e8c44',4,.55,'daily-ha-olive-line');
  steps(m,dayHaLowSteps,220.8,.3,xDay,yDay,'#ff9800',3.5,.88,'daily-ha-low-line');
  steps(m,dayHaHighSteps,220.8,.3,xDay,yDay,'#5a5ef5',3.5,.8,'daily-ha-high-line');
  hLine(m,xDay(221),1387,yDay(7728),'#1a1ae0',3,'3 5','daily-ha-high-dots');
  hLine(m,xDay(221),1387,yDay(7288),'#ff9800',3,'3 5','daily-ha-low-dots');
  candles(m,dayClose,dayHigh,dayLow,6250,xDay,yDay,3.6,1);
  trend(m,154.5,7046,240,8776,xDay,yDay,'#5ea3ef',3,'daily-trend-blue');
  trend(m,106.7,4896,241.2,7568,xDay,yDay,'#00f000',3,'daily-trend-green-rising');
  trend(m,-.5,6346,241.2,6124,xDay,yDay,'#00f000',3,'daily-trend-green-flat');
  trend(m,74.2,5876,241.2,6416,xDay,yDay,'#00f000',3,'daily-trend-green-support');
  trend(m,-.5,8045,161.3,4292,xDay,yDay,'#8a0e4e',3.4,'daily-trend-maroon-steep');
  trend(m,-.5,5653,241.2,4668,xDay,yDay,'#8a0e4e',3,'daily-trend-maroon-lower');
  trend(m,-.5,5450,241.2,4903,xDay,yDay,'#8a0e4e',3,'daily-trend-maroon-upper');

  const v=group(layerMarks,'daily-volume-marks');
  add(v,'rect',{x:xDay(-.5),y:1006,width:xDay(221.3)-xDay(-.5),height:134,fill:'#c7e6f3'},'daily-volume-blue-regime');
  stripes(v,dayBeigeRanges,xDay,1006,134,'#e3e3df','daily-volume-beige-regime');
  stripes(v,dayOrangeStripes,xDay,1006,134,'rgba(240,190,120,.26)','daily-volume-orange-stripe');
  stripes(v,dayCyanStripes,xDay,1006,134,'rgba(70,200,225,.2)','daily-volume-cyan-stripe');
  dayVolTickLabels.forEach(t=>hLine(v,10,1341,yDayVol(Number(t)/1e9),'rgba(120,140,160,.25)',1.2,null,'daily-volume-gridline-over'));
  volTrend(v,dayVolTrendBars,dayVolTrendValues,dayVolTrendSpread,dayVolRedRanges,xDay,yDayVol);
  volBars(v,dayVolume,dayClose,6250,xDay,yDayVol,3.8);
  dayVolGreenTicks.forEach(b=>add(v,'line',{x1:xDay(b),x2:xDay(b),y1:1027,y2:1035,stroke:'#4caf50','stroke-width':1.2},'daily-buy-tick'));
  dayVolRedTicks.forEach(b=>add(v,'line',{x1:xDay(b),x2:xDay(b),y1:1027,y2:1035,stroke:'#f44','stroke-width':1.2},'daily-sell-tick'));

  const s=group(layerMarks,'daily-strength-marks');
  add(s,'rect',{x:xDay(100),y:1140,width:xDay(118.4)-xDay(100),height:188,fill:'rgba(130,170,245,.18)'},'daily-strength-blue-zone');
  stripes(s,dayPinkStripes,xDay,1140,188,'rgba(240,170,190,.36)','daily-strength-pink-stripe');
  stripes(s,dayPurpleStripes,xDay,1140,188,'rgba(140,130,200,.3)','daily-strength-purple-stripe');
  stripes(s,dayBlueStripes,xDay,1140,188,'rgba(110,150,240,.35)','daily-strength-blue-stripe');
  strengthFrame(s,10,1460,yDayStr);
  strengthFills(s,dayStrengthOrange,dayStrengthTeal,xDay,yDayStr);
  strengthRules(s,10,1460,yDayStr);
  strengthLine(s,dayStrengthBars,dayStrengthValues,xDay,yDayStr,1.7);

  const ax=group(layerMarks,'daily-axes','clipDayAll');
  tickLabels(ax,dayPriceTickLabels,t=>yDay(Number(t)*1e5),1473,'daily-price-tick');
  tickLabels(ax,dayVolTickLabels,t=>yDayVol(Number(t)/1e9),1473,'daily-volume-tick');
  tickLabels(ax,dayStrengthTickLabels,t=>yDayStr(Number(t)),1473,'daily-strength-tick');
  timeLabels(ax,dayTimeLabels,dayTimeBars,xDay,1355,'time-year-bold');
})();

/* ===== WEEKLY CHART ===== */
(function(){
  pane(1606,27,1178,474,'weekly-main-pane');
  pane(1606,501,1178,64,'weekly-volume-pane');
  pane(1606,565,1178,91,'weekly-strength-pane');
  add(layerBg,'rect',{x:1606,y:656,width:1178,height:44,fill:'#d6e5f4'},'weekly-time-axis-pane');
  add(layerBg,'rect',{x:1606,y:27,width:1178,height:673,fill:'none',stroke:'#787b86','stroke-width':1},'weekly-frame');
  const bg=group(layerBg,'weekly-grid');
  weekTimeBars.forEach(b=>add(bg,'line',{x1:xWeek(b),x2:xWeek(b),y1:27,y2:656,stroke:'rgba(120,140,160,.2)','stroke-width':1.2},'weekly-time-gridline'));
  weekPriceTickLabels.forEach(t=>hLine(bg,1606,2636,yWeek(Number(t)*1e5),'rgba(120,140,160,.2)',1.2,null,'weekly-price-gridline'));
  add(bg,'line',{x1:2636,x2:2636,y1:27,y2:700,stroke:'#b4c4d6','stroke-width':1.2},'weekly-price-axis-line');
  hLine(bg,1606,2784,656,'#b4c4d6',1.4,null,'weekly-time-axis-line');

  const m=group(layerMarks,'weekly-main-marks','clipWeekMain');
  area(m,weekCloudTop,weekCloudMid,xWeek,yWeek,'rgba(120,200,150,.13)','weekly-upper-cloud');
  area(m,weekCloudMid,weekCloudBottom,xWeek,yWeek,'rgba(100,120,140,.18)','weekly-lower-cloud');
  ribbon(m,weekRedRibbon,xWeek,yWeek,'rgba(235,130,130,.42)','weekly-red-ribbon');
  weekBlueRibbons.forEach(r=>ribbon(m,r,xWeek,yWeek,'rgba(120,190,245,.55)','weekly-blue-ribbon'));
  ribbon(m,weekTanRibbon,xWeek,yWeek,'rgba(240,170,120,.35)','weekly-tan-ribbon');
  ribbon(m,weekCyanRibbon,xWeek,yWeek,'rgba(120,220,235,.5)','weekly-cyan-ribbon');
  hLine(m,1606,2636,yWeek(6951),'#f44',1.3,'6 5','weekly-level-06951');
  hLine(m,1606,xWeek(65.9),yWeek(6427),'#f0f',2.2,null,'weekly-level-06427');
  hLine(m,xWeek(65.9),2636,yWeek(6427),'#f0f',1.3,'6 5','weekly-level-06427-extension');
  steps(m,weekOliveSteps,65.9,.8,xWeek,yWeek,'#8e8c44',3.6,.6,'weekly-ha-olive-line');
  steps(m,weekHaLowSteps,65.9,.9,xWeek,yWeek,'#ff9800',3,.9,'weekly-ha-low-line');
  steps(m,weekHaHighSteps,65.9,.9,xWeek,yWeek,'#5a5ef5',3,.82,'weekly-ha-high-line');
  hLine(m,xWeek(49.9),xWeek(65.9),yWeek(6463),'#9c2af0',3.6,null,'weekly-purple-level');
  candles(m,weekClose,weekHigh,weekLow,6157,xWeek,yWeek,10,1.3,weekFilled);
  for(let k=47;k<=65;k++){
    const x=xWeek(k),y=yWeek(6951);
    add(m,'path',{d:'M'+(x-4)+','+y+'H'+(x+4)+'M'+x+','+(y-4)+'V'+(y+4),stroke:'#f44','stroke-width':1.8},'weekly-level-marker');
  }
  trend(m,48,7032,73.3,8913,xWeek,yWeek,'#5ea3ef',3,'weekly-trend-blue');
  trend(m,26.8,5845,73.3,6873,xWeek,yWeek,'#00f000',3,'weekly-trend-green-flat');
  trend(m,34.9,4898,73.3,8005,xWeek,yWeek,'#00f000',3,'weekly-trend-green-steep');

  const v=group(layerMarks,'weekly-volume-marks');
  add(v,'rect',{x:xWeek(-.8),y:501,width:xWeek(66.5)-xWeek(-.8),height:64,fill:'#c7e6f3'},'weekly-volume-blue-regime');
  stripes(v,weekBeigeRanges,xWeek,501,64,'#e3e3df','weekly-volume-beige-regime');
  stripes(v,weekOrangeStripes,xWeek,501,64,'rgba(240,190,120,.32)','weekly-volume-orange-stripe');
  volTrend(v,weekVolTrendBars,weekVolTrendValues,weekVolTrendSpread,weekVolRedRanges,xWeek,yWeekVol);
  volBars(v,weekVolume,weekClose,6157,xWeek,yWeekVol,12);
  weekVolGreenTicks.forEach(b=>add(v,'line',{x1:xWeek(b),x2:xWeek(b),y1:516,y2:524,stroke:'#4caf50','stroke-width':1.4},'weekly-buy-tick'));
  weekVolRedTicks.forEach(b=>add(v,'line',{x1:xWeek(b),x2:xWeek(b),y1:516,y2:524,stroke:'#f44','stroke-width':1.4},'weekly-sell-tick'));

  const s=group(layerMarks,'weekly-strength-marks');
  strengthFrame(s,1606,2636,yWeekStr);
  strengthFills(s,weekStrengthOrange,weekStrengthTeal,xWeek,yWeekStr);
  strengthRules(s,1606,2636,yWeekStr);
  strengthLine(s,weekStrengthBars,weekStrengthValues,xWeek,yWeekStr,1.6);

  const ax=group(layerMarks,'weekly-axes','clipWeekAll');
  tickLabels(ax,weekPriceTickLabels,t=>yWeek(Number(t)*1e5),2649,'weekly-price-tick');
  tickLabels(ax,['0'],()=>558,2649,'weekly-volume-tick');
  tickLabels(ax,weekStrengthTickLabels,t=>yWeekStr(Number(t)),2649,'weekly-strength-tick');
  timeLabels(ax,weekTimeLabels,weekTimeBars,xWeek,684,'time-year-bold');
})();

/* ===== MONTHLY CHART ===== */
(function(){
  pane(1606,704,1178,472,'monthly-main-pane');
  pane(1606,1176,1178,67,'monthly-volume-pane');
  pane(1606,1243,1178,89,'monthly-strength-pane');
  add(layerBg,'rect',{x:1606,y:1332,width:1178,height:43,fill:'#d6e5f4'},'monthly-time-axis-pane');
  add(layerBg,'rect',{x:1606,y:704,width:1178,height:671,fill:'none',stroke:'#787b86','stroke-width':1},'monthly-frame');
  const bg=group(layerBg,'monthly-grid');
  monthTimeBars.forEach(b=>add(bg,'line',{x1:xMonth(b),x2:xMonth(b),y1:704,y2:1332,stroke:'rgba(120,140,160,.2)','stroke-width':1.2},'monthly-time-gridline'));
  monthPriceTickLabels.forEach(t=>hLine(bg,1606,2636,yMonth(Number(t)*1e5),'rgba(120,140,160,.2)',1.2,null,'monthly-price-gridline'));
  add(bg,'line',{x1:2636,x2:2636,y1:704,y2:1375,stroke:'#b4c4d6','stroke-width':1.2},'monthly-price-axis-line');
  hLine(bg,1606,2784,1332,'#b4c4d6',1.4,null,'monthly-time-axis-line');

  const m=group(layerMarks,'monthly-main-marks','clipMonthMain');
  area(m,monthCloudTop,monthCloudMid,xMonth,yMonth,'rgba(120,200,150,.2)','monthly-upper-cloud');
  area(m,monthCloudMid,monthCloudBottom,xMonth,yMonth,'rgba(100,120,140,.25)','monthly-lower-cloud');
  monthTanRibbons.forEach(r=>ribbon(m,r,xMonth,yMonth,'rgba(240,170,120,.35)','monthly-tan-ribbon'));
  ribbon(m,monthBlueRibbon,xMonth,yMonth,'rgba(120,190,250,.55)','monthly-blue-ribbon');
  monthCyanRibbons.forEach(r=>ribbon(m,r,xMonth,yMonth,'rgba(120,220,235,.5)','monthly-cyan-ribbon'));
  ribbon(m,monthRedRibbon,xMonth,yMonth,'rgba(235,130,130,.35)','monthly-red-ribbon');
  hLine(m,1606,2636,yMonth(7679),'#f44',1.5,null,'monthly-level-07679');
  hLine(m,1606,2636,yMonth(6905),'#f44',2.4,null,'monthly-level-06905');
  hLine(m,1606,2636,yMonth(4562),'#a8a8ae',2.6,null,'monthly-level-04562');
  hLine(m,1606,2636,yMonth(3200),'#a8a8ae',2.6,null,'monthly-level-03200');
  monthDots3200.forEach(b=>add(m,'circle',{cx:xMonth(b),cy:yMonth(3200),r:5,fill:'#8f97a3','fill-opacity':.65},'monthly-dot-03200'));
  monthDots4562.forEach(b=>add(m,'circle',{cx:xMonth(b),cy:yMonth(4562),r:5,fill:'#8f97a3','fill-opacity':.65},'monthly-dot-04562'));
  hLine(m,xMonth(31),xMonth(56),yMonth(7740),'#9c2af0',3.5,null,'monthly-purple-level');
  hLine(m,xMonth(33),xMonth(56),yMonth(5358),'#5a5ef5',3.5,null,'monthly-ha-high-line');
  hLine(m,xMonth(53.2),xMonth(56),yMonth(6905),'#f0f',2.6,null,'monthly-magenta-level');
  candles(m,monthClose,monthHigh,monthLow,2300,xMonth,yMonth,10,1.3,monthFilled);
  trend(m,38,9657,69,-1017,xMonth,yMonth,'#8a0e4e',3.2,'monthly-trend-steep');
  trend(m,35.2,7725,69.2,1931,xMonth,yMonth,'#8a0e4e',3.2,'monthly-trend-middle');
  trend(m,42,5794,69.2,3761,xMonth,yMonth,'#8a0e4e',3.2,'monthly-trend-flat');

  const v=group(layerMarks,'monthly-volume-marks');
  stripes(v,monthBeigeRanges,xMonth,1176,67,'#e3e3df','monthly-volume-beige-regime');
  stripes(v,monthOrangeStripes,xMonth,1176,67,'rgba(240,190,120,.32)','monthly-volume-orange-stripe');
  volTrend(v,monthVolTrendBars,monthVolTrendValues,monthVolTrendSpread,monthVolRedRanges,xMonth,yMonthVol);
  volBars(v,monthVolume,monthClose,2300,xMonth,yMonthVol,12.5);
  monthUpArrows.forEach(b=>{const x=xMonth(b);add(v,'polygon',{points:pts([[x,1190],[x+4,1195],[x+1.5,1195],[x+1.5,1199],[x-1.5,1199],[x-1.5,1195],[x-4,1195]]),fill:'#2e9e4f'},'monthly-buy-arrow');});
  monthDownArrows.forEach(b=>{const x=xMonth(b);add(v,'polygon',{points:pts([[x,1200],[x+4,1195],[x+1.5,1195],[x+1.5,1191],[x-1.5,1191],[x-1.5,1195],[x-4,1195]]),fill:'#f44'},'monthly-sell-arrow');});

  const s=group(layerMarks,'monthly-strength-marks');
  strengthFrame(s,1606,2636,yMonthStr);
  strengthFills(s,monthStrengthOrange,monthStrengthTeal,xMonth,yMonthStr);
  strengthRules(s,1606,2636,yMonthStr);
  strengthLine(s,monthStrengthBars,monthStrengthValues,xMonth,yMonthStr,1.6);
  add(s,'line',{x1:xMonth(monthCyanStrengthBars[0]),y1:yMonthStr(monthCyanStrengthValues[0]),x2:xMonth(monthCyanStrengthBars[1]),y2:yMonthStr(monthCyanStrengthValues[1]),stroke:'#3fc4d8','stroke-width':1.8},'monthly-strength-cyan-line');
  add(s,'line',{x1:xMonth(monthOrangeStrengthBars[0]),y1:yMonthStr(monthOrangeStrengthValues[0]),x2:xMonth(monthOrangeStrengthBars[1]),y2:yMonthStr(monthOrangeStrengthValues[1]),stroke:'#ff9800','stroke-width':1.8},'monthly-strength-orange-line');

  const ax=group(layerMarks,'monthly-axes','clipMonthAll');
  tickLabels(ax,monthPriceTickLabels,t=>yMonth(Number(t)*1e5),2649,'monthly-price-tick');
  tickLabels(ax,['0'],()=>1237,2649,'monthly-volume-tick');
  tickLabels(ax,monthStrengthTickLabels,t=>yMonthStr(Number(t)),2649,'monthly-strength-tick');
  timeLabels(ax,monthTimeLabels,monthTimeBars,xMonth,1358,'monthly-time-tick');
})();
</script>
</body>
</html>
